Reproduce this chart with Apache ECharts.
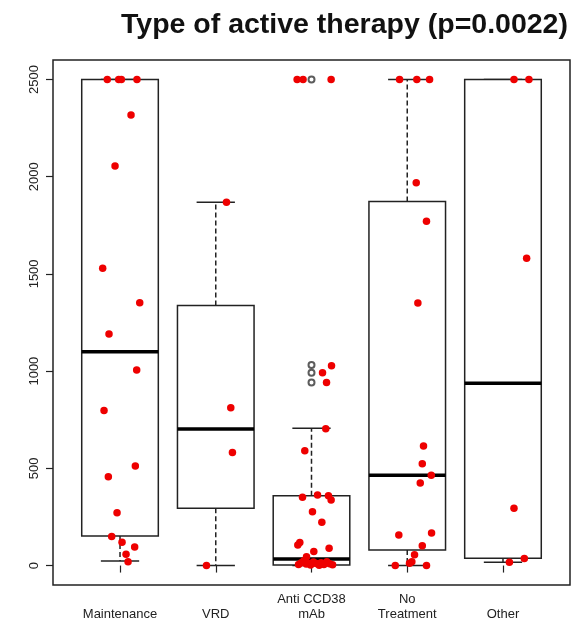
<!DOCTYPE html>
<html>
<head>
<meta charset="utf-8">
<script src="https://cdn.jsdelivr.net/npm/echarts@6/dist/echarts.min.js"></script>
<style>
html,body{margin:0;padding:0;background:#fff;}
#chart{width:580px;height:625px;}
</style>
</head>
<body>
<div id="chart"></div>
<script>
// ---- data ----
const categories = ['Maintenance', 'VRD', 'Anti CCD38\nmAb', 'No\nTreatment', 'Other'];
const yTicks = [0, 500, 1000, 1500, 2000, 2500];

// box statistics (lower whisker, Q1, median, Q3, upper whisker)
const boxMin = [24, 0, 0, 0, 17];
const boxQ1  = [152, 295, 3, 80, 37];
const boxMed = [1100, 702, 34, 464, 938];
const boxQ3  = [2500, 1338, 359, 1872, 2500];
const boxMax = [2500, 1868, 706, 2500, 2500];

// outliers (open circles) — group index (1-based) and value
const outlierGroup = [3, 3, 3, 3];
const outlierValue = [2500, 1032, 992, 941];

// jittered points: x position (category units) and value
const maintenanceX = [0.867, 0.986, 1.014, 1.177, 1.115, 0.948, 0.819, 1.206, 0.885, 1.174, 0.833, 1.160, 0.878, 0.969, 0.913, 1.021, 1.153, 1.063, 1.084];
const maintenanceY = [2500, 2500, 2500, 2500, 2317, 2055, 1529, 1352, 1191, 1006, 797, 512, 457, 272, 149, 120, 96, 58, 20];

const vrdX = [2.112, 2.157, 2.174, 1.903];
const vrdY = [1868, 811, 582, 0];

const antiX = [2.850, 2.912, 3.205, 3.209, 3.115, 3.157, 3.149, 2.930, 2.906, 3.063, 3.177, 3.205, 3.010, 3.108, 2.878, 2.857, 3.024, 3.184, 2.948,
               2.865, 2.893, 2.920, 2.945, 2.970, 2.990, 3.020, 3.050, 3.080, 3.100, 3.130, 3.160, 3.190, 3.220];
const antiY = [2500, 2500, 2500, 1027, 992, 941, 704, 591, 351, 363, 359, 337, 277, 223, 118, 106, 72, 89, 45,
               5, 15, 25, 8, 12, 3, 18, 10, 2, 14, 6, 20, 9, 4];

const noTreatX = [3.920, 4.100, 4.233, 4.094, 4.201, 4.111, 4.170, 4.157, 4.251, 4.136, 3.912, 4.254, 4.157, 4.076, 4.048, 4.024, 3.875, 4.201];
const noTreatY = [2500, 2500, 2500, 1969, 1771, 1350, 615, 524, 464, 425, 157, 168, 102, 55, 20, 12, 0, 0];

const otherX = [5.115, 5.271, 5.247, 5.115, 5.223, 5.067];
const otherY = [2500, 2500, 1580, 295, 36, 17];

// ---- build options ----
const boxData = categories.map((c, i) => [i + 1, boxMin[i], boxQ1[i], boxMed[i], boxQ3[i], boxMax[i]]);
const pointData = [];
[[maintenanceX, maintenanceY], [vrdX, vrdY], [antiX, antiY], [noTreatX, noTreatY], [otherX, otherY]]
  .forEach(([xs, ys]) => xs.forEach((x, k) => pointData.push([x, ys[k]])));
const outlierData = outlierGroup.map((g, i) => [g, outlierValue[i]]);

const BOX_W = 0.8, CAP_W = 0.4;
const lineCol = '#222';

function renderBox(params, api) {
  const x = api.value(0);
  const lo = api.coord([x, api.value(1)]);
  const q1 = api.coord([x, api.value(2)]);
  const md = api.coord([x, api.value(3)]);
  const q3 = api.coord([x, api.value(4)]);
  const hi = api.coord([x, api.value(5)]);
  const hw = api.size([BOX_W, 0])[0] / 2;
  const cw = api.size([CAP_W, 0])[0] / 2;
  const cx = lo[0];
  const dash = { stroke: lineCol, lineWidth: 1.5, lineDash: [5, 3] };
  const solid = { stroke: lineCol, lineWidth: 1.5 };
  return {
    type: 'group',
    children: [
      { type: 'line', shape: { x1: cx, y1: q3[1], x2: cx, y2: hi[1] }, style: dash },
      { type: 'line', shape: { x1: cx, y1: q1[1], x2: cx, y2: lo[1] }, style: dash },
      { type: 'line', shape: { x1: cx - cw, y1: hi[1], x2: cx + cw, y2: hi[1] }, style: solid },
      { type: 'line', shape: { x1: cx - cw, y1: lo[1], x2: cx + cw, y2: lo[1] }, style: solid },
      { type: 'rect', shape: { x: cx - hw, y: q3[1], width: 2 * hw, height: q1[1] - q3[1] },
        style: { fill: '#fff', stroke: lineCol, lineWidth: 1.5 } },
      { type: 'line', shape: { x1: cx - hw, y1: md[1], x2: cx + hw, y2: md[1] },
        style: { stroke: '#000', lineWidth: 3.5 } }
    ]
  };
}

const chart = echarts.init(document.getElementById('chart'), null, { renderer: 'canvas' });
chart.setOption({
  animation: false,
  backgroundColor: '#fff',
  title: {
    text: 'Type of active therapy (p=0.0022)',
    left: 116, top: 6,
    textStyle: { fontFamily: 'Liberation Sans, Arial, sans-serif', fontSize: 28.5, fontWeight: 'bold', color: '#111' }
  },
  grid: {
    left: 53, right: 10, top: 60, bottom: 40,
    show: true, borderColor: '#222', borderWidth: 1.5, backgroundColor: 'transparent'
  },
  xAxis: {
    type: 'value', min: 0.3, max: 5.7,
    splitLine: { show: false },
    axisLine: { show: false },
    axisTick: { show: true, customValues: [1, 2, 3, 4, 5], length: 7, lineStyle: { color: '#222', width: 1.2 } },
    axisLabel: {
      customValues: [1, 2, 3, 4, 5],
      formatter: v => categories[Math.round(v) - 1] || '',
      verticalAlign: 'bottom', margin: 37, lineHeight: 15,
      fontFamily: 'Liberation Sans, Arial, sans-serif', fontSize: 13, color: '#222'
    }
  },
  yAxis: {
    type: 'value', min: -100, max: 2600,
    splitLine: { show: false },
    axisLine: { show: false },
    axisTick: { show: true, customValues: yTicks, length: 7, lineStyle: { color: '#222', width: 1.2 } },
    axisLabel: {
      customValues: yTicks, rotate: 90, margin: 12,
      formatter: v => String(v),
      fontFamily: 'Liberation Sans, Arial, sans-serif', fontSize: 13, color: '#222'
    }
  },
  series: [
    { type: 'custom', renderItem: renderBox, data: boxData, z: 2, encode: { x: 0, y: [1, 2, 3, 4, 5] } },
    { type: 'scatter', data: outlierData, symbol: 'emptyCircle', symbolSize: 6, z: 3,
      itemStyle: { color: '#333', borderColor: '#333', borderWidth: 1 } },
    { type: 'scatter', data: pointData, symbol: 'circle', symbolSize: 7.5, z: 4,
      itemStyle: { color: '#ee0000', opacity: 1 } }
  ]
});
</script>
</body>
</html>
